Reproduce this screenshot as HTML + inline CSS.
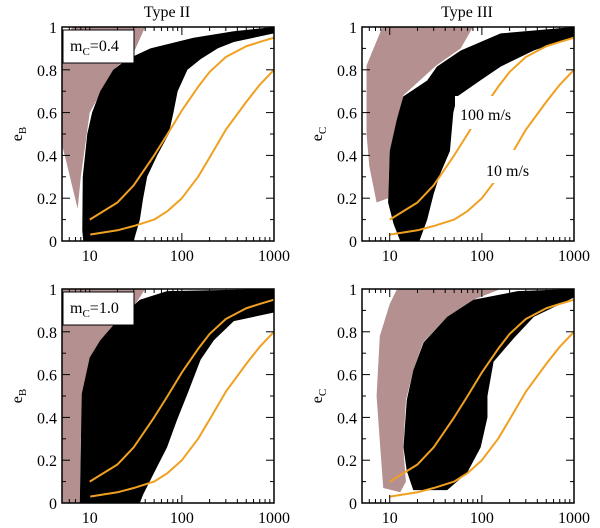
<!DOCTYPE html>
<html><head><meta charset="utf-8">
<style>
html,body{margin:0;padding:0;background:#fff;}
svg{display:block;font-family:"Liberation Serif",serif;}
</style></head>
<body>
<svg id="chart" width="600" height="528" viewBox="0 0 600 528">
<text x="167" y="17" font-size="16" text-anchor="middle">Type II</text>
<text x="467" y="17" font-size="16" text-anchor="middle">Type III</text>
</svg>
<script>
// ---- data (period, eccentricity) ----
const xTicks = [10, 100, 1000];
const xTickLabels = ["10", "100", "1000"];
const yTicks = [0, 0.2, 0.4, 0.6, 0.8, 1];
const yTickLabels = ["0", "0.2", "0.4", "0.6", "0.8", "1"];
const curve100X = [10, 20, 30, 50, 70, 100, 150, 200, 300, 500, 700, 1000];
const curve100Y = [0.1, 0.18, 0.26, 0.4, 0.5, 0.61, 0.72, 0.79, 0.86, 0.91, 0.93, 0.95];
const curve10X = [10, 20, 30, 50, 70, 100, 150, 200, 300, 500, 700, 1000];
const curve10Y = [0.03, 0.05, 0.07, 0.1, 0.14, 0.2, 0.3, 0.39, 0.52, 0.65, 0.73, 0.8];
const pinkTL = [[5,0.45],[5,0.85],[5.8,0.95],[6.4,1],[40,1],[30,0.88],[18,0.8],[10,0.6],[8,0.3],[7.4,0.15],[6.5,0.25],[5.5,0.38]];
const blackTL = [[8.3,0.05],[8.4,0.3],[9.4,0.5],[10.6,0.6],[13,0.7],[18,0.8],[25.6,0.85],[45.6,0.9],[134,0.95],[366,0.98],[1000,1],[1000,0.97],[366,0.93],[245,0.9],[160,0.85],[115,0.8],[90,0.7],[81,0.6],[72,0.5],[54,0.4],[42,0.3],[38,0.2],[35,0.1],[30,0],[8.5,0]];
const pinkTR = [[5.6,0.5],[5.6,0.82],[7.8,0.97],[8.4,1],[80,1],[59,0.9],[32,0.82],[14,0.68],[10,0.42],[9.6,0.2],[7.2,0.18],[6,0.35]];
const blackTR = [[9.6,0.18],[10,0.42],[11.9,0.565],[14,0.675],[25.5,0.75],[32.5,0.815],[59,0.89],[160,0.97],[1000,1],[1000,0.955],[366,0.89],[160,0.815],[96,0.75],[54,0.675],[49,0.6],[45,0.42],[35,0.31],[30,0.22],[25.5,0.1],[21,0],[13,0],[11,0.08]];
const pinkBL = [[5,0],[5,1],[40,1],[20,0.8],[8,0.3],[7.8,0]];
const blackBL = [[7.8,0],[8.2,0.51],[10,0.68],[13,0.76],[19.7,0.85],[35,0.95],[69,0.99],[1000,1],[1000,0.89],[366,0.85],[222,0.76],[160,0.67],[115,0.51],[89,0.39],[69,0.26],[54,0.17],[38,0.04],[35,0]];
const pinkBR = [[7.8,0.29],[7.2,0.5],[7.8,0.78],[10,0.93],[12,1],[160,1],[81,0.95],[42,0.87],[23,0.75],[18,0.62],[15,0.48],[14,0.26],[15,0.1],[13,0.05],[8.5,0.07]];
const blackBR = [[14.1,0.26],[15.3,0.48],[18,0.62],[23.3,0.75],[42,0.87],[81,0.95],[245,0.99],[1000,1],[1000,0.96],[366,0.87],[222,0.77],[134,0.66],[115,0.5],[115,0.4],[97,0.26],[69,0.14],[42,0.06],[18,0.06],[15.3,0.15]];

const panels = [
  {name:"type-ii-mc04", L:62, T:27, pink:pinkTL, black:blackTL, yl:"B", legend:"0.4", notes:false},
  {name:"type-iii-mc04", L:362, T:27, pink:pinkTR, black:blackTR, yl:"C", legend:null, notes:true},
  {name:"type-ii-mc10", L:62, T:289, pink:pinkBL, black:blackBL, yl:"B", legend:"1.0", notes:false},
  {name:"type-iii-mc10", L:362, T:289, pink:pinkBR, black:blackBR, yl:"C", legend:null, notes:false}
];
const W = 212, H = 214;
const NS = "http://www.w3.org/2000/svg";
const svg = document.getElementById('chart');
function mk(tag, attrs, parent){
  const e = document.createElementNS(NS, tag);
  for (const k in attrs) e.setAttribute(k, attrs[k]);
  (parent||svg).appendChild(e);
  return e;
}
panels.forEach(p => {
  const xs = v => p.L + (Math.log10(v) - Math.log10(5)) / (Math.log10(1000) - Math.log10(5)) * W;
  const ys = v => p.T + H - v * H;
  const g = mk('g', {});
  
  
  const clipId = 'clip-' + p.name;
  const cp = mk('clipPath', {id: clipId}, g);
  mk('rect', {x:p.L, y:p.T, width:W, height:H}, cp);
  const dg = mk('g', {'clip-path':'url(#' + clipId + ')'}, g);
  const pk = mk('polygon', {points: p.pink.map(d => xs(d[0]) + ',' + ys(d[1])).join(' '), fill:'#b49090'}, dg);
  
  
  const bk = mk('polygon', {points: p.black.map(d => xs(d[0]) + ',' + ys(d[1])).join(' '), fill:'#000'}, dg);
  
  
  const c1 = mk('polyline', {points: curve100X.map((x, i) => xs(x) + ',' + ys(curve100Y[i])).join(' '), fill:'none', stroke:'#f0a020', 'stroke-width':2, 'stroke-linejoin':'round'}, dg);
  
  
  const c2 = mk('polyline', {points: curve10X.map((x, i) => xs(x) + ',' + ys(curve10Y[i])).join(' '), fill:'none', stroke:'#f0a020', 'stroke-width':2, 'stroke-linejoin':'round'}, dg);
  
  
  const tk = mk('g', {stroke:'#000', 'stroke-width':1}, g);
  
  
  for (let d = 1; d <= 1000; d *= 10) {
    for (let m = 1; m < 10; m++) {
      const v = d * m;
      if (v < 5 || v > 1000) continue;
      const len = m === 1 ? 8 : 4;
      const X = xs(v);
      mk('line', {x1:X, y1:p.T + H, x2:X, y2:p.T + H - len}, tk);
      mk('line', {x1:X, y1:p.T, x2:X, y2:p.T + len}, tk);
    }
  }
  for (let i = 0; i <= 10; i++) {
    const v = i / 10;
    const len = i % 2 === 0 ? 8 : 4;
    const Y = ys(v);
    mk('line', {x1:p.L, y1:Y, x2:p.L + len, y2:Y}, tk);
    mk('line', {x1:p.L + W, y1:Y, x2:p.L + W - len, y2:Y}, tk);
  }
  const fr = mk('rect', {x:p.L, y:p.T, width:W, height:H, fill:'none', stroke:'#000', 'stroke-width':1.5}, g);
  
  
  xTicks.forEach((v, i) => {
    const t = mk('text', {x:xs(v), y:p.T + H + 20, 'font-size':16, 'text-anchor':'middle'}, g);
    t.textContent = xTickLabels[i];
    
    
  });
  yTicks.forEach((v, i) => {
    const t = mk('text', {x:p.L - 5, y:ys(v) + 6, 'font-size':16, 'text-anchor':'end'}, g);
    t.textContent = yTickLabels[i];
    
    
  });
  const yt = mk('text', {x:0, y:0, 'font-size':16, 'text-anchor':'middle', transform:'translate(' + (p.L - 40) + ',' + (p.T + 107) + ') rotate(-90)'}, g);
  yt.innerHTML = 'e<tspan font-size="11" dy="4">' + p.yl + '</tspan>';
  
  
  if (p.legend) {
    const lg = mk('g', {}, g);
    
    
    mk('rect', {x:p.L + 1, y:p.T + 3, width:71, height:33, fill:'#fff', stroke:'#000', 'stroke-width':1}, lg);
    const t = mk('text', {x:p.L + 8, y:p.T + 24, 'font-size':16}, lg);
    t.innerHTML = 'm<tspan font-size="11" dy="4">C</tspan><tspan dy="-4">=' + p.legend + '</tspan>';
  }
  if (p.notes) {
    const n1 = mk('g', {}, g);
    
    
    mk('rect', {x:455, y:96, width:68, height:33, fill:'#fff'}, n1);
    const t1 = mk('text', {x:460, y:120, 'font-size':16}, n1);
    t1.textContent = '100 m/s';
    const n2 = mk('g', {}, g);
    
    
    mk('rect', {x:480, y:150, width:62, height:33, fill:'#fff'}, n2);
    const t2 = mk('text', {x:486, y:176, 'font-size':16}, n2);
    t2.textContent = '10 m/s';
  }
});
</script>
</body></html>
